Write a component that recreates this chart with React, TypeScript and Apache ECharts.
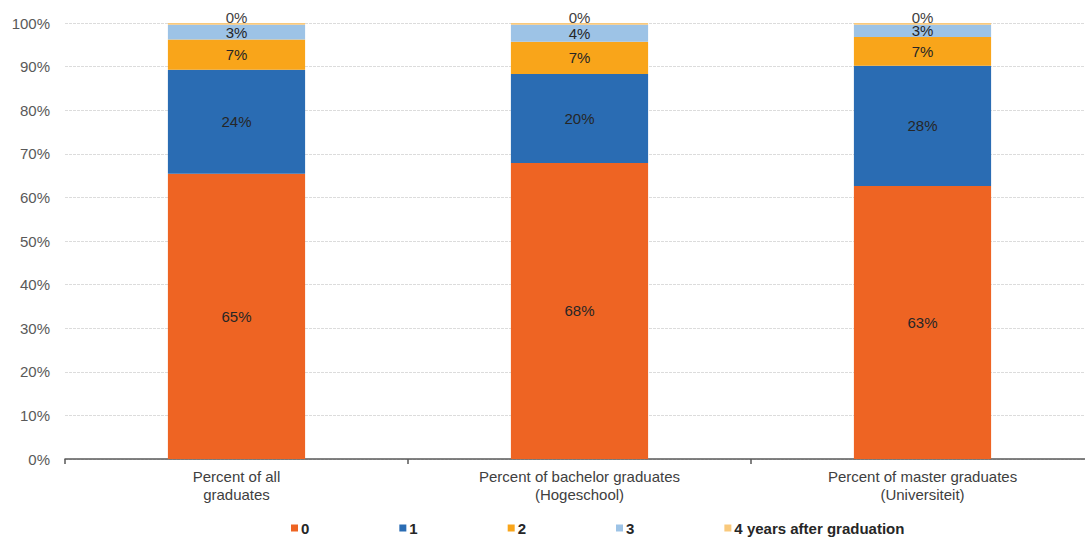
import React, { useEffect, useRef } from "react";
import * as echarts from "echarts";

const categories = [
  "Percent of all\ngraduates",
  "Percent of bachelor graduates\n(Hogeschool)",
  "Percent of master graduates\n(Universiteit)",
];
const seriesNames = ["0", "1", "2", "3", "4 years after graduation"];
const s0 = [65.4, 67.9, 62.6];
const s1 = [23.9, 20.4, 27.6];
const s2 = [6.9, 7.4, 6.6];
const s3 = [3.4, 3.9, 2.8];
const s4 = [0.4, 0.4, 0.4];
const yTicks = [0, 10, 20, 30, 40, 50, 60, 70, 80, 90, 100];

const colors = ["#EE6423", "#2A6CB3", "#F9A51A", "#9DC3E6", "#F9C97C"];
const FONT = "'Liberation Sans', Arial, sans-serif";

export default function App() {
  const ref = useRef<HTMLDivElement>(null);
  useEffect(() => {
    if (!ref.current) return;
    const chart = echarts.init(ref.current, undefined, { renderer: "svg" });
    const all = [s0, s1, s2, s3, s4];
    chart.setOption({
      animation: false,
      textStyle: { fontFamily: FONT },
      grid: { left: 65, top: 23, height: 436, width: 1029, outerBoundsMode: "none", containLabel: false },
      legend: {
        left: 291,
        top: 519,
        padding: 0,
        itemWidth: 7,
        itemHeight: 7,
        itemGap: 90,
        icon: "rect",
        textStyle: { fontFamily: FONT, fontSize: 15, fontWeight: "bold", color: "#262626", padding: [0, 0, 0, -2], lineHeight: 18 },
        data: seriesNames,
      },
      xAxis: {
        type: "category",
        data: categories,
        axisLine: { lineStyle: { color: "#595959", width: 1.5 } },
        axisTick: { show: true, interval: 0, length: 5, lineStyle: { color: "#595959", width: 1.5 } },
        axisLabel: { color: "#404040", fontSize: 15, lineHeight: 18, margin: 8, interval: 0 },
      },
      yAxis: {
        type: "value",
        min: yTicks[0],
        max: yTicks[yTicks.length - 1],
        interval: 10,
        axisLine: { show: false },
        axisTick: { show: false },
        axisLabel: { color: "#595959", fontSize: 15, margin: 15, formatter: (v: number) => v + "%" },
        splitLine: { lineStyle: { color: "#dcdcdc", width: 1, type: [3, 1] } },
      },
      series: all.map((d, i) => ({
        name: seriesNames[i],
        type: "bar",
        stack: "total",
        barWidth: "40%",
        data: d,
        itemStyle: { color: colors[i] },
        label: {
          show: true,
          position: i === 4 ? "top" : "inside",
          distance: i === 4 ? -2 : 5,
          color: i === 4 ? "#404040" : "#262626",
          fontSize: 15,
          fontFamily: FONT,
          formatter: (p: any) => Math.round(p.value) + "%",
        },
      })),
    });
    return () => chart.dispose();
  }, []);
  return (
    <div
      ref={ref}
      style={{ position: "fixed", left: 0, top: 0, width: 1085, height: 538, background: "#fff" }}
    />
  );
}
